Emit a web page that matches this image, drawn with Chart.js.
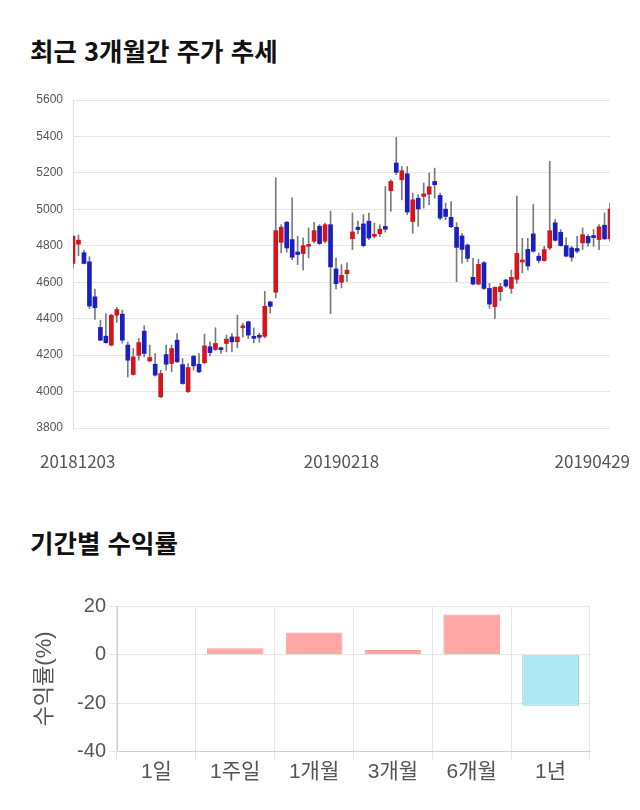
<!DOCTYPE html>
<html lang="ko">
<head>
<meta charset="utf-8">
<script src="https://cdn.jsdelivr.net/npm/chart.js@4.4.1/dist/chart.umd.min.js"></script>
<style>
  body { margin: 0; width: 640px; height: 810px; background: #fff; position: relative; overflow: hidden;
         font-family: "Noto Sans CJK KR", "Noto Sans", sans-serif; }
  h2 { position: absolute; left: 30px; margin: 0; font-size: 25.5px; font-weight: bold; color: #111; line-height: 1; }
  #t1 { top: 37px; }
  #t2 { top: 529px; }
  canvas { position: absolute; left: 0; }
  #price { top: 80px; }
  #ret { top: 580px; }
</style>
</head>
<body>
<h2 id="t1">최근 3개월간 주가 추세</h2>
<canvas id="price" width="640" height="400"></canvas>
<h2 id="t2">기간별 수익률</h2>
<canvas id="ret" width="640" height="220"></canvas>
<script>
// trading days, 2018-12-03 .. 2019-04-29
const dates = [
  '20181203','20181204','20181205','20181206','20181207','20181210','20181211','20181212','20181213','20181214',
  '20181217','20181218','20181219','20181220','20181221','20181224','20181226','20181227','20181228',
  '20190102','20190103','20190104','20190107','20190108','20190109','20190110','20190111','20190114','20190115',
  '20190116','20190117','20190118','20190121','20190122','20190123','20190124','20190125','20190128','20190129',
  '20190130','20190131',
  '20190201','20190207','20190208','20190211','20190212','20190213','20190214','20190215','20190218','20190219',
  '20190220','20190221','20190222','20190225','20190226','20190227','20190228',
  '20190304','20190305','20190306','20190307','20190308','20190311','20190312','20190313','20190314','20190315',
  '20190318','20190319','20190320','20190321','20190322','20190325','20190326','20190327','20190328','20190329',
  '20190401','20190402','20190403','20190404','20190405','20190408','20190409','20190410','20190411','20190412',
  '20190415','20190416','20190417','20190418','20190419','20190422','20190423','20190424','20190425','20190426',
  '20190429'
];
const opens = [
  4703,4809,4762,4712,4520,4352,4304,4255,4419,4425, 4255,4094,4199,4331,4168,4150,3971,4203,4154,4282,
  4148,3999,4194,4150,4158,4246,4231,4236,4264,4300, 4273,4350,4383,4298,4303,4303,4492,4545,4819,4929,
  4834,4766,4757,4797,4825,4907,4825,4916,4673,4600, 4647,4839,4902,4920,4935,4852,4866,4906,5102,5254,
  5162,5195,4933,5061,5071,5083,5153,5076,5001,4956, 4901,4854,4804,4627,4590,4707,4566,4466,4548,4612,
  4566,4616,4711,4780,4865,4743,4719,4788,4926,4874, 4801,4788,4785,4816,4852,4850,4834,4913,4838
];
const highs = [
  4855,4859,4776,4740,4562,4392,4426,4425,4461,4447, 4272,4236,4291,4361,4255,4209,4117,4255,4255,4318,
  4181,4154,4200,4209,4315,4273,4350,4244,4310,4318, 4420,4375,4387,4349,4320,4550,4496,5173,4916,4934,
  5063,4852,4843,4898,4929,4916,4925,4990,4733,4697, 4706,4980,4935,4971,4980,4925,4915,5125,5162,5395,
  5235,5235,5089,5080,5144,5199,5226,5089,5034,5043, 4927,4868,4810,4731,4725,4713,4594,4575,4594,4616,
  4667,5073,4841,4841,5026,4761,4797,5264,4944,4889, 4843,4797,4852,4898,4861,4889,4916,4980,5035
];
const lows = [
  4676,4745,4700,4456,4396,4279,4266,4250,4380,4266, 4080,4090,4172,4190,4163,4085,3967,4117,4108,4160,
  4040,3995,4117,4103,4154,4196,4225,4209,4218,4218, 4240,4300,4290,4267,4270,4294,4431,4514,4761,4765,
  4724,4697,4666,4733,4816,4807,4816,4428,4563,4569, 4605,4779,4867,4794,4834,4843,4851,4875,4989,5190,
  5052,4970,4869,4906,5007,5025,5061,4943,4943,4900, 4603,4704,4713,4585,4585,4561,4457,4402,4499,4572,
  4539,4594,4652,4667,4765,4706,4715,4779,4825,4797, 4739,4715,4761,4779,4797,4797,4779,4834,4825
];
const closes = [
  4853,4831,4703,4469,4460,4282,4268,4419,4450,4282, 4172,4190,4269,4209,4187,4090,4099,4150,4236,4163,
  4044,4132,4141,4108,4251,4214,4264,4230,4288,4273, 4300,4357,4310,4292,4298,4468,4468,4883,4902,4788,
  4737,4752,4801,4807,4883,4812,4916,4684,4592,4638, 4666,4876,4889,4801,4843,4861,4891,4891,5153,5203,
  5212,4985,5052,5002,5085,5124,5135,4952,4961,4905, 4791,4780,4731,4590,4698,4566,4480,4572,4575,4579,
  4627,4758,4722,4689,4770,4719,4779,4883,4830,4801, 4743,4737,4770,4861,4816,4845,4904,4838,5002
];
const shownDates = ['20181203', '20190218', '20190429'];
const priceMin = 3800, priceMax = 5600, priceStep = 200;

const periods = ['1일', '1주일', '1개월', '3개월', '6개월', '1년'];
const returns = [0, 2.6, 9.1, 1.9, 16.5, -21.1];
const returnMin = -40, returnMax = 20, returnStep = 20;

Chart.defaults.font.family = '"Liberation Sans", "Noto Sans CJK KR", sans-serif';

const UP = '#d4161c', DOWN = '#1a1fc4';

// date captions under the candles, kept inside the canvas
const dateLabels = {
  id: 'dateLabels',
  afterDraw(chart) {
    const { ctx, scales } = chart;
    ctx.save();
    ctx.font = '17px "Noto Sans CJK KR", sans-serif';
    ctx.fillStyle = '#555';
    ctx.textAlign = 'center';
    ctx.textBaseline = 'middle';
    shownDates.forEach(d => {
      const w = ctx.measureText(d).width;
      let x = scales.x.getPixelForValue(dates.indexOf(d));
      x = Math.max(40 + w / 2, Math.min(630 - w / 2, x));
      ctx.fillText(d, x, chart.chartArea.bottom + 34);
    });
    ctx.restore();
  }
};

new Chart(document.getElementById('price'), {
  type: 'bar',
  data: {
    labels: dates,
    datasets: [
      {
        data: dates.map((d, i) => [lows[i], highs[i]]),
        backgroundColor: '#7a7a7a',
        barThickness: 1,
        grouped: false,
        order: 2
      },
      {
        data: dates.map((d, i) => [opens[i], closes[i]]),
        backgroundColor: dates.map((d, i) => closes[i] >= opens[i] ? UP : DOWN),
        barThickness: 4,
        minBarLength: 2,
        grouped: false,
        order: 1
      }
    ]
  },
  options: {
    responsive: false,
    animation: false,
    layout: { padding: { top: 20, right: 30, bottom: 52, left: 0 } },
    plugins: { legend: { display: false }, tooltip: { enabled: false } },
    scales: {
      x: { display: false, offset: false },
      y: {
        min: priceMin, max: priceMax,
        ticks: { stepSize: priceStep, color: '#555', font: { size: 12 }, padding: 10, callback: v => String(v) },
        grid: { color: '#e6e6e6', drawTicks: false },
        border: { display: true, color: '#dcdcdc' },
        afterFit(s) { s.width = 73; }
      }
    }
  },
  plugins: [dateLabels]
});

new Chart(document.getElementById('ret'), {
  type: 'bar',
  data: {
    labels: periods,
    datasets: [{
      data: returns,
      backgroundColor: returns.map(v => v >= 0 ? '#ffa7a7' : '#aee9f3'),
      borderColor: returns.map(v => v >= 0 ? '#f29a9a' : '#8fcfdc'),
      borderWidth: 1
    }]
  },
  options: {
    responsive: false,
    animation: false,
    layout: { padding: { top: 26, right: 50, bottom: 15, left: 30 } },
    plugins: { legend: { display: false }, tooltip: { enabled: false } },
    scales: {
      x: {
        grid: { color: '#e6e6e6', tickLength: 8 },
        border: { color: '#d0d0d0' },
        ticks: { color: '#555', font: { size: 21 }, padding: 0 }
      },
      y: {
        min: returnMin, max: returnMax,
        ticks: { stepSize: returnStep, color: '#555', font: { size: 20 }, padding: 3 },
        grid: { color: '#e6e6e6', tickLength: 8 },
        border: { color: '#d0d0d0' },
        title: { display: true, text: '수익률(%)', color: '#555', font: { size: 22 }, padding: { top: 2, bottom: 4 } },
        afterFit(s) { s.width = 87; }
      }
    }
  }
});
</script>
</body>
</html>
